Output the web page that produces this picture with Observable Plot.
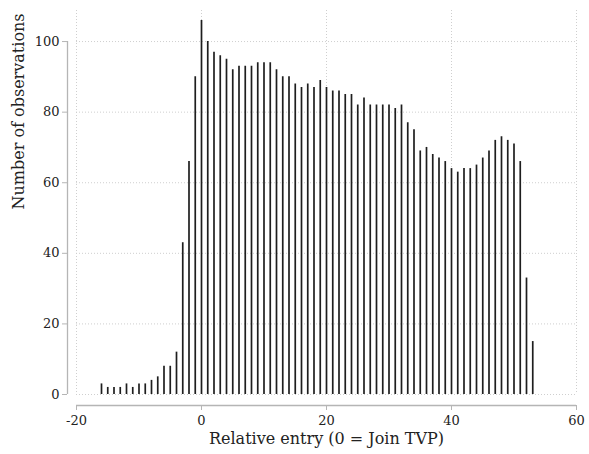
<!DOCTYPE html>
<html>
<head>
<meta charset="utf-8">
<script src="https://cdn.jsdelivr.net/npm/d3@7"></script>
<script src="https://cdn.jsdelivr.net/npm/@observablehq/plot@0.6"></script>
<style>
  html, body { margin: 0; padding: 0; background: #fff; }
  #chart svg { display: block; }
</style>
</head>
<body>
<div id="chart"></div>
<script>
const relativeEntry = [-16, -15, -14, -13, -12, -11, -10, -9, -8, -7, -6, -5, -4, -3, -2, -1,
  0, 1, 2, 3, 4, 5, 6, 7, 8, 9, 10, 11, 12, 13, 14, 15, 16, 17, 18, 19,
  20, 21, 22, 23, 24, 25, 26, 27, 28, 29, 30, 31, 32, 33, 34, 35, 36, 37, 38, 39,
  40, 41, 42, 43, 44, 45, 46, 47, 48, 49, 50, 51, 52, 53];
const observations = [3, 2, 2, 2, 3, 2, 3, 3, 4, 5, 8, 8, 12, 43, 66, 90,
  106, 100, 97, 96, 95, 92, 93, 93, 93, 94, 94, 94, 92, 90, 90, 88, 87, 88, 87, 89,
  87, 86, 86, 85, 85, 82, 84, 82, 82, 82, 82, 81, 82, 77, 75, 69, 70, 68, 67, 66,
  64, 63, 64, 64, 65, 67, 69, 72, 73, 72, 71, 66, 33, 15];
const xTicks = [-20, 0, 20, 40, 60];
const yTicks = [0, 20, 40, 60, 80, 100];
const xTitle = "Relative entry (0 = Join TVP)";
const yTitle = "Number of observations";

const data = relativeEntry.map((x, i) => ({x, y: observations[i]}));
const font = "'DejaVu Serif', 'Liberation Serif', serif";
const ink = "#222";
const axisGray = "#b5b5b5";
const gridGray = "#cfcfcf";
const fmt = d => String(d);

const chart = Plot.plot({
  width: 589,
  height: 454,
  marginLeft: 76,
  marginRight: 13,
  marginTop: 10,
  marginBottom: 60,
  style: {fontFamily: font, background: "#fff", color: ink},
  x: {domain: [-20, 60]},
  y: {domain: [0, 108.8]},
  marks: [
    Plot.gridX({ticks: xTicks, stroke: gridGray, strokeOpacity: 1, strokeDasharray: "1,2"}),
    Plot.gridY({ticks: yTicks, stroke: gridGray, strokeOpacity: 1, strokeDasharray: "1,2"}),
    Plot.ruleX([xTicks[0]], {y1: yTicks[0], y2: yTicks[yTicks.length - 1], dx: -9, stroke: axisGray, strokeWidth: 1.3}),
    Plot.ruleY([yTicks[0]], {x1: xTicks[0], x2: xTicks[xTicks.length - 1], dy: 11, stroke: axisGray, strokeWidth: 1.3}),
    Plot.axisY({ticks: yTicks, tickFormat: fmt, dx: -9, tickSize: 5, tickPadding: 3, stroke: axisGray, fill: ink, fontSize: 13, label: null}),
    Plot.axisX({ticks: xTicks, tickFormat: fmt, dy: 11, tickSize: 5, tickPadding: 5, stroke: axisGray, fill: ink, fontSize: 13, label: null}),
    Plot.ruleX(data, {x: "x", y: "y", stroke: "#1e1e1e", strokeWidth: 1.7}),
    Plot.text([xTitle], {frameAnchor: "bottom", dy: 49, fontSize: 16, fill: ink}),
    Plot.text([yTitle], {frameAnchor: "left", rotate: -90, dx: -58, dy: 7, fontSize: 16, fill: ink})
  ]
});
document.getElementById("chart").appendChild(chart);
</script>
</body>
</html>
